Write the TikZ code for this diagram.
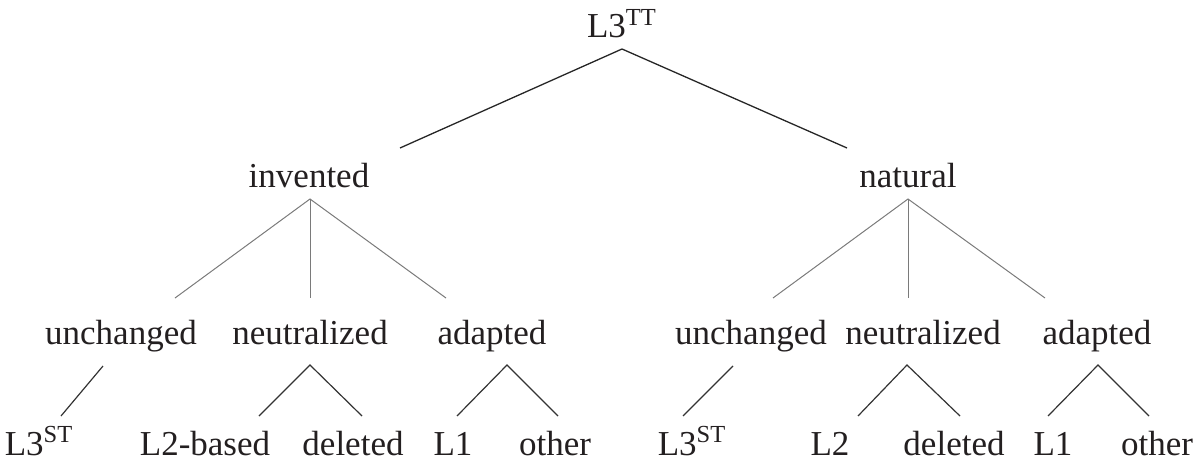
\documentclass[tikz,border=0pt]{standalone}
\usepackage{fontspec}
\setmainfont{Liberation Serif}
\definecolor{txt}{HTML}{231F20}
\definecolor{lineA}{HTML}{262626}
\definecolor{lineB}{HTML}{7A7A7A}
\definecolor{lineC}{HTML}{333333}
\begin{document}
\begin{tikzpicture}[x=0.5pt,y=-0.5pt,
  lbl/.style={anchor=base,inner sep=0pt,outer sep=0pt,text=txt,font=\fontsize{17.5}{21}\selectfont},
  topline/.style={draw=lineA,line width=0.65pt},
  midline/.style={draw=lineB,line width=0.5pt},
  lowline/.style={draw=lineC,line width=0.6pt}]
\useasboundingbox (0,0) rectangle (1199,466);
% nodes
\node[lbl] (root) at (622,38) {L3\textsuperscript{TT}};
\node[lbl] (inv) at (309,187) {invented};
\node[lbl] (nat) at (908,187) {natural};
\node[lbl] (iu) at (121,344) {unchanged};
\node[lbl] (in) at (310,344) {neutralized};
\node[lbl] (ia) at (492,344) {adapted};
\node[lbl] (nu) at (751,344) {unchanged};
\node[lbl] (nn) at (923,344) {neutralized};
\node[lbl] (na) at (1097,344) {adapted};
\node[lbl] (b1) at (39,455) {L3\textsuperscript{ST}};
\node[lbl] (b2) at (205,455) {L2-based};
\node[lbl] (b3) at (353,455) {deleted};
\node[lbl] (b4) at (453,455) {L1};
\node[lbl] (b5) at (555,455) {other};
\node[lbl] (b6) at (692,455) {L3\textsuperscript{ST}};
\node[lbl] (b7) at (830,455) {L2};
\node[lbl] (b8) at (954,455) {deleted};
\node[lbl] (b9) at (1053,455) {L1};
\node[lbl] (b10) at (1157,455) {other};
% root connectors
\draw[topline] ([shift={(91,-39)}]inv.base) -- ([shift={(0,11)}]root.base) -- ([shift={(-61,-39)}]nat.base);
% invented
\draw[midline] ([shift={(54,-46)}]iu.base) -- ([shift={(1,12)}]inv.base) -- ([shift={(-46,-46)}]ia.base);
\draw[midline] ([shift={(1,12)}]inv.base) -- ([shift={(0,-46)}]in.base);
% natural
\draw[midline] ([shift={(22,-46)}]nu.base) -- ([shift={(0,12)}]nat.base) -- ([shift={(-52,-46)}]na.base);
\draw[midline] ([shift={(0,12)}]nat.base) -- ([shift={(-15,-46)}]nn.base);
% lower level left
\draw[lowline] ([shift={(-18,22)}]iu.base) -- ([shift={(22,-39)}]b1.base);
\draw[lowline] ([shift={(54,-39)}]b2.base) -- ([shift={(0,21)}]in.base) -- ([shift={(9,-39)}]b3.base);
\draw[lowline] ([shift={(4,-39)}]b4.base) -- ([shift={(15,21)}]ia.base) -- ([shift={(3,-39)}]b5.base);
% lower level right
\draw[lowline] ([shift={(-18,22)}]nu.base) -- ([shift={(-9,-39)}]b6.base);
\draw[lowline] ([shift={(28,-39)}]b7.base) -- ([shift={(-16,21)}]nn.base) -- ([shift={(6,-39)}]b8.base);
\draw[lowline] ([shift={(-5,-39)}]b9.base) -- ([shift={(1,21)}]na.base) -- ([shift={(-8,-39)}]b10.base);
\end{tikzpicture}
\end{document}
